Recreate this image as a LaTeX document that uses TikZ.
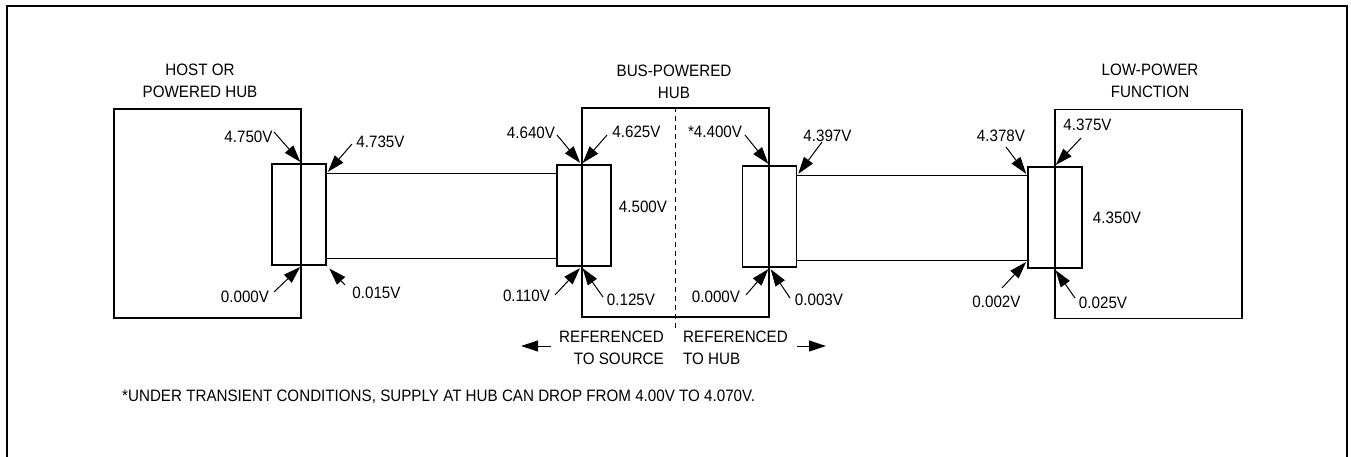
\documentclass[tikz,border=0pt]{standalone}
\usepackage{fontspec}
\setmainfont{Liberation Sans}[FakeStretch=0.92]
\usetikzlibrary{arrows.meta,calc}

\begin{document}
\begin{tikzpicture}[x=1pt, y=-1pt, >={Triangle[length=17pt,width=11pt]}]
  \tikzstyle{unit}=[draw, line width=1.2pt, minimum width=187pt, minimum height=209pt, inner sep=0pt]
  \tikzstyle{conn}=[draw, line width=1.2pt, minimum width=54pt, minimum height=101pt, inner sep=0pt]
  \tikzstyle{lbl}=[inner sep=0pt, font=\fontsize{16.5}{22.5}\selectfont]
  \tikzstyle{volt}=[->, line width=1pt, shorten >=2pt]
  \tikzstyle{cable}=[line width=1pt]
  \useasboundingbox (0,0) rectangle (1351,457);
  % outer frame
  \draw[line width=2.5pt] (7,460) -- (7,6) -- (1347,6) -- (1347,460);

  % units and connectors
  \node[unit] (host) at (207.5,213.5) {};
  \node[unit] (bphub) at (675.5,212.5) {};
  \node[unit] (lp) at (1148.5,214) {};
  \node[conn] (hostconn) at (299,214.5) {};
  \node[conn] (bpin) at (584,215.5) {};
  \node[conn] (bpout) at (769.5,216.5) {};
  \node[conn] (lpconn) at (1055,217.5) {};

  % cables
  \coordinate (c1t) at ($(hostconn.north east)+(0,10)$);
  \coordinate (c1b) at ($(hostconn.south east)+(0,-7)$);
  \coordinate (c2t) at ($(bpout.north east)+(0,10)$);
  \coordinate (c2b) at ($(bpout.south east)+(0,-7)$);
  \draw[cable] (c1t) -- (bpin.west |- c1t);
  \draw[cable] (c1b) -- (bpin.west |- c1b);
  \draw[cable] (c2t) -- (lpconn.west |- c2t);
  \draw[cable] (c2b) -- (lpconn.west |- c2b);
  \coordinate (divend) at ($(bphub.south)+(0,11)$);
  \draw[line width=1pt, dash pattern=on 5pt off 4pt] (bphub.north) -- (divend);

  % titles
  \node[lbl, align=center] (hosttitle) at (200,81) {HOST OR\\POWERED HUB};
  \node[lbl, align=center] (bptitle) at (674,82) {BUS-POWERED\\HUB};
  \node[lbl, align=center] (lptitle) at (1150,81) {LOW-POWER\\FUNCTION};

  % host side
  \node[lbl] (h4750) at (248.5,137) {4.750V};
  \node[lbl] (h4735) at (380.5,142) {4.735V};
  \node[lbl] (h0000) at (245,297) {0.000V};
  \node[lbl] (h0015) at (376.5,293) {0.015V};
  \coordinate (h4750t) at (274,132);
  \coordinate (h4735t) at (352,144);
  \coordinate (h0000t) at (274,292);
  \coordinate (h0015t) at (345,285);
  \draw[volt] (h4750t) -- (host.east |- hostconn.north);
  \draw[volt] (h4735t) -- (c1t);
  \draw[volt] (h0000t) -- (host.east |- hostconn.south);
  \draw[volt, shorten >=4pt] (h0015t) -- (hostconn.south east);

  % bus-powered hub, upstream
  \node[lbl] (b4640) at (531,133) {4.640V};
  \node[lbl] (b4625) at (636.5,132) {4.625V};
  \node[lbl] (b0110) at (526.5,296) {0.110V};
  \node[lbl] (b0125) at (631,300) {0.125V};
  \node[lbl] (b4500) at (643,207) {4.500V};
  \coordinate (b4640t) at (557,135);
  \coordinate (b4625t) at (607,135);
  \coordinate (b0110t) at (555,295);
  \coordinate (b0125t) at (603,297);
  \draw[volt] (b4640t) -- (bphub.west |- bpin.north);
  \draw[volt] (b4625t) -- (bphub.west |- bpin.north);
  \draw[volt] (b0110t) -- (bphub.west |- bpin.south);
  \draw[volt] (b0125t) -- (bphub.west |- bpin.south);

  % bus-powered hub, downstream
  \node[lbl] (b4400) at (715,132) {*4.400V};
  \node[lbl] (b4397) at (827.5,136) {4.397V};
  \node[lbl] (b0000) at (716,297) {0.000V};
  \node[lbl] (b0003) at (819,300) {0.003V};
  \coordinate (b4400t) at (745,135);
  \coordinate (b4397t) at (822,142);
  \coordinate (b0000t) at (746,295);
  \coordinate (b0003t) at (790,298);
  \draw[volt] (b4400t) -- (bphub.east |- bpout.north);
  \draw[volt] (b4397t) -- (c2t);
  \draw[volt] (b0000t) -- (bphub.east |- bpout.south);
  \draw[volt] (b0003t) -- (bphub.east |- bpout.south);

  % low-power function
  \node[lbl] (f4378) at (1001,136) {4.378V};
  \node[lbl] (f4375) at (1087.5,125) {4.375V};
  \node[lbl] (f4350) at (1117,218) {4.350V};
  \node[lbl] (f0002) at (996.5,302) {0.002V};
  \node[lbl] (f0025) at (1103,303) {0.025V};
  \coordinate (f4378t) at (1006,147);
  \coordinate (f4375t) at (1081,138);
  \coordinate (f0002t) at (1002,288);
  \coordinate (f0025t) at (1075,298);
  \draw[volt] (f4378t) -- (lpconn.west |- c2t);
  \draw[volt] (f4375t) -- (lp.west |- lpconn.north);
  \draw[volt] (f0002t) -- (lpconn.west |- c2b);
  \draw[volt] (f0025t) -- (lp.west |- lpconn.south);

  % reference sides
  \node[lbl, align=right, anchor=east] (refsrc) at (664,348) {REFERENCED\\TO SOURCE};
  \node[lbl, align=left, anchor=west] (refhub) at (683,348) {REFERENCED\\TO HUB};
  \coordinate (srctip) at (521,346);
  \coordinate (hubtip) at (826,346);
  \draw[->, line width=1pt] ([xshift=-8pt, yshift=2pt]refsrc.west) -- (srctip);
  \draw[->, line width=1pt] (797,346) -- (hubtip);

  % footnote
  \node[lbl, anchor=west] (note) at (122,397) {*UNDER TRANSIENT CONDITIONS, SUPPLY AT HUB CAN DROP FROM 4.00V TO 4.070V.};
\end{tikzpicture}
\end{document}
